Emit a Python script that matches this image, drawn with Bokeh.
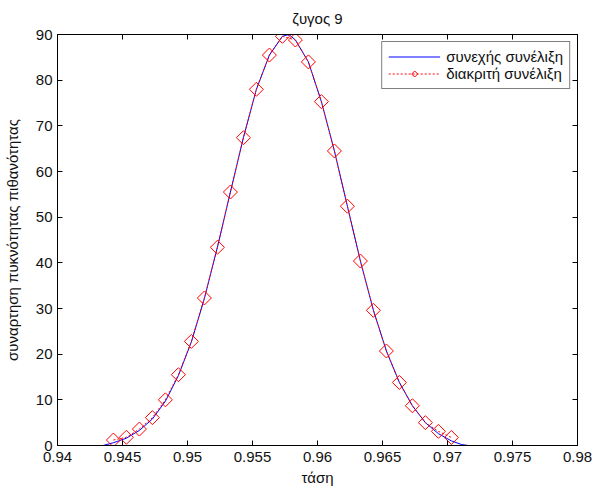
from bokeh.plotting import figure
from bokeh.models import (Range1d, LinearAxis, FixedTicker, Legend, LegendItem,
                          CustomJSTickFormatter)
from bokeh.embed import file_html
from bokeh.resources import INLINE

# continuous convolution (blue line)
cont_x = [0.9405, 0.9435, 0.9443, 0.9448, 0.9453, 0.9463, 0.9473, 0.9483, 0.9493,
          0.9503, 0.9513, 0.9523, 0.9533, 0.9543, 0.9553, 0.9563, 0.9573, 0.9578,
          0.9583, 0.9593, 0.9603, 0.9613, 0.9623, 0.9633, 0.9643, 0.9653, 0.9663,
          0.9673, 0.9683, 0.9693, 0.9703, 0.9711, 0.9716, 0.9748]
cont_y = [0.0, 0.0, 0.6, 1.1, 1.6, 3.3, 5.8, 9.7, 15.3,
          22.7, 32.2, 43.4, 55.5, 67.4, 78.0, 85.5, 89.6, 90.0,
          88.8, 84.0, 75.3, 64.5, 52.4, 40.4, 29.6, 20.7, 13.8,
          8.7, 5.0, 2.6, 1.0, 0.2, 0.0, 0.0]

# discrete convolution (red diamonds)
disc_x = [0.9443, 0.9453, 0.9463, 0.9473, 0.9483, 0.9493, 0.9503, 0.9513, 0.9523,
          0.9533, 0.9543, 0.9553, 0.9563, 0.9573, 0.9583, 0.9593, 0.9603, 0.9613,
          0.9623, 0.9633, 0.9643, 0.9653, 0.9663, 0.9673, 0.9683, 0.9693, 0.9703]
disc_y = [1.2, 1.8, 3.6, 6.1, 10.0, 15.5, 22.8, 32.3, 43.4,
          55.5, 67.4, 78.0, 85.5, 89.6, 88.8, 84.0, 75.3, 64.5,
          52.4, 40.4, 29.6, 20.7, 13.8, 8.7, 5.0, 3.1, 1.75]

x_ticks = [0.94, 0.945, 0.95, 0.955, 0.96, 0.965, 0.97, 0.975, 0.98]
x_tick_labels = ["0.94", "0.945", "0.95", "0.955", "0.96", "0.965", "0.97", "0.975", "0.98"]
y_ticks = [0, 10, 20, 30, 40, 50, 60, 70, 80, 90]

title_text = "ζυγος 9"
x_label = "τάση"
y_label = "συναρτηση πυκνότητας πιθανότητας"
legend_labels = ["συνεχής συνέλιξη", "διακριτή συνέλιξη"]

FONT = "Liberation Sans"
FS = "15px"

p = figure(output_backend="svg", toolbar_location=None,
           width=595, height=493,
           x_range=Range1d(0.94, 0.98), y_range=Range1d(0, 90),
           min_border_left=55, min_border_right=18, min_border_top=34, min_border_bottom=48,
           background_fill_color="white", border_fill_color="white")
p.outline_line_color = "black"
p.grid.visible = False

p.title.text = title_text
p.title.align = "center"
p.title.text_font = FONT
p.title.text_font_size = FS
p.title.text_font_style = "normal"
p.title.text_color = "#111111"
p.title.standoff = 15

def style_axis(ax, labels=True):
    ax.axis_line_color = "black"
    ax.major_tick_in = 5
    ax.major_tick_out = 0
    ax.minor_tick_line_color = None
    ax.major_label_text_font = FONT
    ax.major_label_text_font_size = FS
    ax.major_label_text_color = "#111111"
    ax.axis_label_text_font = FONT
    ax.axis_label_text_font_size = FS
    ax.axis_label_text_font_style = "normal"
    ax.axis_label_text_color = "#111111"
    if not labels:
        ax.formatter = CustomJSTickFormatter(code="return ''")
        ax.major_label_standoff = 0

xa = p.xaxis[0]
xa.ticker = FixedTicker(ticks=x_ticks)
xa.major_label_overrides = {t: l for t, l in zip(x_ticks, x_tick_labels)}
xa.axis_label = x_label
style_axis(xa)
xa.major_label_standoff = 6
xa.axis_label_standoff = 4

ya = p.yaxis[0]
ya.ticker = FixedTicker(ticks=y_ticks)
ya.axis_label = y_label
style_axis(ya)
ya.major_label_standoff = 5
ya.axis_label_standoff = 12

top = LinearAxis(ticker=FixedTicker(ticks=x_ticks))
style_axis(top, labels=False)
p.add_layout(top, "above")
right = LinearAxis(ticker=FixedTicker(ticks=y_ticks))
style_axis(right, labels=False)
p.add_layout(right, "right")

blue = p.line(cont_x, cont_y, line_color="blue", line_width=1)
red_line = p.line(disc_x, disc_y, line_color="red", line_width=1, line_dash="2 2")
red_pts = p.ngon(disc_x, disc_y, radius=7, radius_units="screen", n=4,
                 line_color="red", fill_color=None, line_width=1)

legend = Legend(items=[LegendItem(label=legend_labels[0], renderers=[blue]),
                       LegendItem(label=legend_labels[1], renderers=[red_line, red_pts])],
                location="top_right")
legend.margin = 7
legend.padding = 6
legend.spacing = 0
legend.glyph_width = 52
legend.glyph_height = 15
legend.label_height = 15
legend.label_standoff = 6
legend.label_text_font = FONT
legend.label_text_font_size = FS
legend.label_text_color = "#111111"
legend.border_line_color = "black"
legend.border_line_width = 1
legend.background_fill_alpha = 1
p.add_layout(legend, "center")

open("out.html", "w").write(file_html(p, INLINE))
